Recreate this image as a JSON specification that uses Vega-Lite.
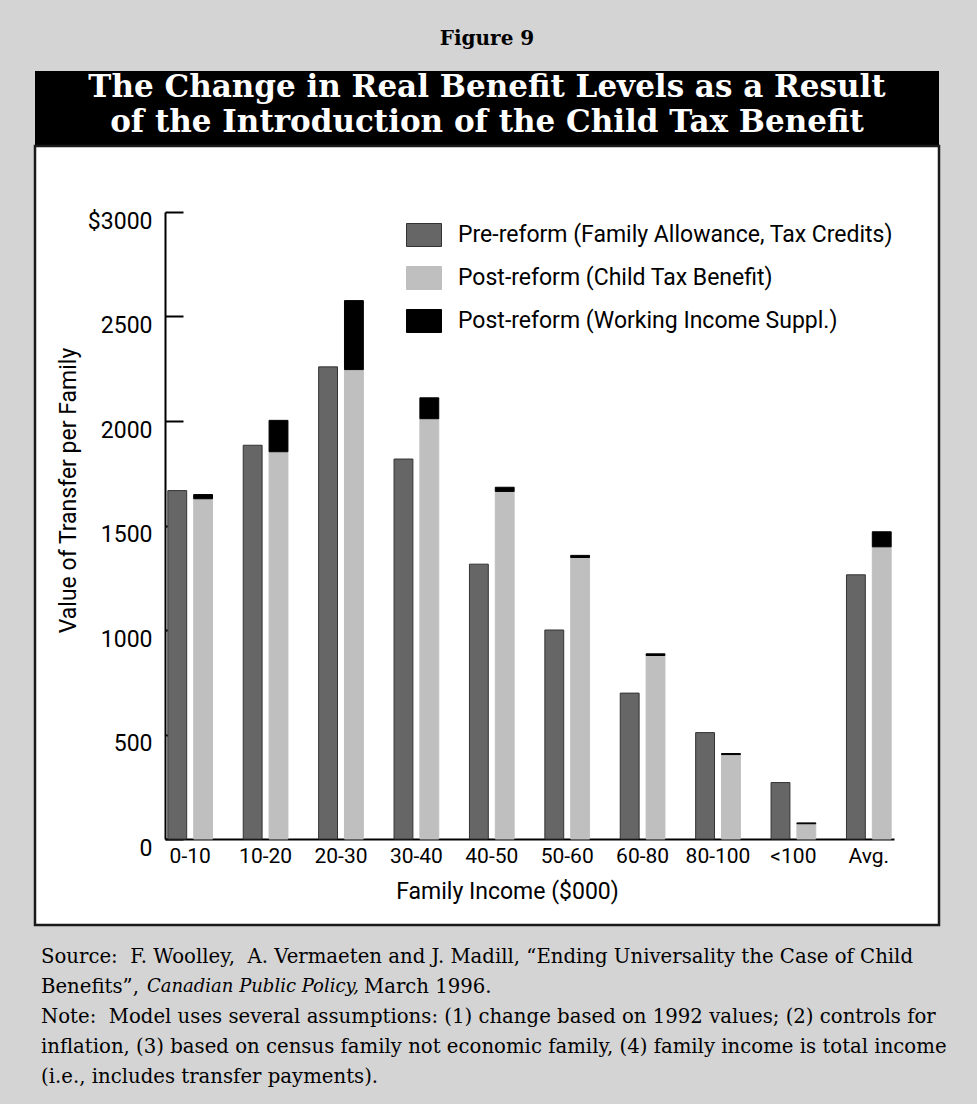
{
  "$schema": "https://vega.github.io/schema/vega-lite/v6.json",
  "background": "#d4d4d4",
  "padding": {"left": 33, "top": 29, "right": 38, "bottom": 0},
  "spacing": 0,
  "bounds": "flush",
  "datasets": {
    "heading": [
      {"line": 1, "text": "The Change in Real Benefit Levels as a Result"},
      {"line": 2, "text": "of the Introduction of the Child Tax Benefit"}
    ],
    "benefits": [
      {"income": "0-10", "group": "Pre", "series": "Pre-reform (Family Allowance, Tax Credits)", "value": 1667},
      {"income": "0-10", "group": "Post", "series": "Post-reform (Child Tax Benefit)", "value": 1628},
      {"income": "0-10", "group": "Post", "series": "Post-reform (Working Income Suppl.)", "value": 20},
      {"income": "10-20", "group": "Pre", "series": "Pre-reform (Family Allowance, Tax Credits)", "value": 1884},
      {"income": "10-20", "group": "Post", "series": "Post-reform (Child Tax Benefit)", "value": 1853},
      {"income": "10-20", "group": "Post", "series": "Post-reform (Working Income Suppl.)", "value": 150},
      {"income": "20-30", "group": "Pre", "series": "Pre-reform (Family Allowance, Tax Credits)", "value": 2259},
      {"income": "20-30", "group": "Post", "series": "Post-reform (Child Tax Benefit)", "value": 2246},
      {"income": "20-30", "group": "Post", "series": "Post-reform (Working Income Suppl.)", "value": 330},
      {"income": "30-40", "group": "Pre", "series": "Pre-reform (Family Allowance, Tax Credits)", "value": 1818},
      {"income": "30-40", "group": "Post", "series": "Post-reform (Child Tax Benefit)", "value": 2011},
      {"income": "30-40", "group": "Post", "series": "Post-reform (Working Income Suppl.)", "value": 100},
      {"income": "40-50", "group": "Pre", "series": "Pre-reform (Family Allowance, Tax Credits)", "value": 1315},
      {"income": "40-50", "group": "Post", "series": "Post-reform (Child Tax Benefit)", "value": 1663},
      {"income": "40-50", "group": "Post", "series": "Post-reform (Working Income Suppl.)", "value": 20},
      {"income": "50-60", "group": "Pre", "series": "Pre-reform (Family Allowance, Tax Credits)", "value": 1000},
      {"income": "50-60", "group": "Post", "series": "Post-reform (Child Tax Benefit)", "value": 1347},
      {"income": "50-60", "group": "Post", "series": "Post-reform (Working Income Suppl.)", "value": 10},
      {"income": "60-80", "group": "Pre", "series": "Pre-reform (Family Allowance, Tax Credits)", "value": 698},
      {"income": "60-80", "group": "Post", "series": "Post-reform (Child Tax Benefit)", "value": 878},
      {"income": "60-80", "group": "Post", "series": "Post-reform (Working Income Suppl.)", "value": 8},
      {"income": "80-100", "group": "Pre", "series": "Pre-reform (Family Allowance, Tax Credits)", "value": 509},
      {"income": "80-100", "group": "Post", "series": "Post-reform (Child Tax Benefit)", "value": 404},
      {"income": "80-100", "group": "Post", "series": "Post-reform (Working Income Suppl.)", "value": 5},
      {"income": "<100", "group": "Pre", "series": "Pre-reform (Family Allowance, Tax Credits)", "value": 270},
      {"income": "<100", "group": "Post", "series": "Post-reform (Child Tax Benefit)", "value": 73},
      {"income": "<100", "group": "Post", "series": "Post-reform (Working Income Suppl.)", "value": 4},
      {"income": "Avg.", "group": "Pre", "series": "Pre-reform (Family Allowance, Tax Credits)", "value": 1264},
      {"income": "Avg.", "group": "Post", "series": "Post-reform (Child Tax Benefit)", "value": 1398},
      {"income": "Avg.", "group": "Post", "series": "Post-reform (Working Income Suppl.)", "value": 72}
    ],
    "notes": [
      {"line": 1, "part": "a", "text": "Source:\u00a0 F. Woolley,\u00a0 A. Vermaeten and J. Madill, “Ending Universality the Case of Child"},
      {"line": 2, "part": "a", "text": "Benefits”,"},
      {"line": 2, "part": "b", "text": "Canadian Public Policy,"},
      {"line": 2, "part": "c", "text": "March 1996."},
      {"line": 3, "part": "a", "text": "Note:\u00a0 Model uses several assumptions: (1) change based on 1992 values; (2) controls for"},
      {"line": 4, "part": "a", "text": "inflation, (3) based on census family not economic family, (4) family income is total income"},
      {"line": 5, "part": "a", "text": "(i.e., includes transfer payments)."}
    ]
  },
  "vconcat": [
    {
      "width": 904,
      "height": 75,
      "view": {"fill": "#000000", "stroke": null},
      "title": {"text": "Figure 9", "font": "DejaVu Serif", "fontSize": 20, "fontWeight": "bold", "color": "#000000", "offset": 22, "anchor": "middle"},
      "data": {"name": "heading"},
      "mark": {"type": "text", "font": "DejaVu Serif", "fontSize": 31, "fontWeight": "bold", "color": "#ffffff", "align": "center", "baseline": "middle", "x": 452},
      "encoding": {
        "y": {"field": "line", "type": "ordinal", "scale": {"type": "point", "range": [17, 52], "padding": 0}, "axis": null},
        "text": {"field": "text"}
      }
    },
    {
      "width": 904,
      "height": 779,
      "view": {"fill": "#ffffff", "stroke": "#1a1a1a", "strokeWidth": 2.5},
      "data": {"name": "benefits"},
      "transform": [
        {"stack": "value", "groupby": ["income", "group"], "sort": [{"field": "series", "order": "ascending"}], "as": ["v0", "v1"]}
      ],
      "mark": {"type": "bar", "strokeWidth": 1},
      "encoding": {
        "x": {
          "field": "income", "type": "nominal",
          "sort": ["0-10", "10-20", "20-30", "30-40", "40-50", "50-60", "60-80", "80-100", "<100", "Avg."],
          "scale": {"range": [130, 859], "paddingInner": 0.407, "paddingOuter": 0.0375},
          "axis": {
            "title": "Family Income ($000)", "orient": "bottom", "offset": -86,
            "ticks": false, "labelAngle": 0, "labelPadding": 6,
            "labelFont": "Roboto", "labelFontSize": 21, "labelColor": "#000000",
            "domainColor": "#000000", "domainWidth": 2,
            "titleFont": "Roboto", "titleFontSize": 23, "titleFontWeight": "normal", "titleColor": "#000000",
            "titleX": 472, "titleY": 52, "titleBaseline": "middle", "titleAlign": "center"
          }
        },
        "xOffset": {"field": "group", "type": "nominal", "sort": ["Pre", "Post"], "scale": {"paddingInner": 0.27, "paddingOuter": 0}},
        "y": {
          "field": "v1", "type": "quantitative",
          "scale": {"domain": [0, 3000], "range": [693, 66], "nice": false},
          "axis": {
            "title": "Value of Transfer per Family", "offset": -130,
            "values": [0, 500, 1000, 1500, 2000, 2500, 3000], "format": "d",
            "labelExpr": "datum.value == 3000 ? '$3000' : datum.label",
            "grid": false, "tickSize": -18, "tickWidth": 2, "tickColor": "#000000",
            "domainColor": "#000000", "domainWidth": 2,
            "labelFont": "Roboto", "labelFontSize": 23, "labelColor": "#000000", "labelPadding": 31, "labelOffset": 9,
            "titleFont": "Roboto", "titleFontSize": 23, "titleFontWeight": "normal", "titleColor": "#000000",
            "titleX": -97, "titleY": 344, "titleBaseline": "middle", "titleAlign": "center", "titleAngle": 270
          }
        },
        "y2": {"field": "v0"},
        "fill": {
          "field": "series", "type": "nominal",
          "scale": {
            "domain": ["Pre-reform (Family Allowance, Tax Credits)", "Post-reform (Child Tax Benefit)", "Post-reform (Working Income Suppl.)"],
            "range": ["#666666", "#bfbfbf", "#000000"]
          },
          "legend": {
            "orient": "none", "legendX": 371, "legendY": 146, "title": null, "padding": 0,
            "symbolType": "M-1,-0.657H1V0.657H-1Z", "symbolSize": 1225, "symbolStrokeWidth": 1,
            "labelFont": "Roboto", "labelFontSize": 23, "labelColor": "#000000", "labelOffset": 16, "labelLimit": 600,
            "rowPadding": 11
          }
        },
        "stroke": {
          "field": "series", "type": "nominal",
          "scale": {
            "domain": ["Pre-reform (Family Allowance, Tax Credits)", "Post-reform (Child Tax Benefit)", "Post-reform (Working Income Suppl.)"],
            "range": ["#333333", "#bfbfbf", "#000000"]
          },
          "legend": {
            "orient": "none", "legendX": 371, "legendY": 146, "title": null, "padding": 0,
            "symbolType": "M-1,-0.657H1V0.657H-1Z", "symbolSize": 1225, "symbolStrokeWidth": 1,
            "labelFont": "Roboto", "labelFontSize": 23, "labelColor": "#000000", "labelOffset": 16, "labelLimit": 600,
            "rowPadding": 11
          }
        }
      }
    },
    {
      "width": 904,
      "height": 179,
      "view": {"stroke": null},
      "data": {"name": "notes"},
      "encoding": {
        "y": {"field": "line", "type": "ordinal", "scale": {"type": "point", "range": [32, 152], "padding": 0}, "axis": null},
        "text": {"field": "text"}
      },
      "layer": [
        {
          "transform": [{"filter": "datum.part == 'a'"}],
          "mark": {"type": "text", "align": "left", "baseline": "middle", "font": "DejaVu Serif", "fontSize": 19.7, "color": "#000000", "x": 6}
        },
        {
          "transform": [{"filter": "datum.part == 'b'"}],
          "mark": {"type": "text", "align": "left", "baseline": "middle", "font": "DejaVu Serif", "fontSize": 18, "fontStyle": "italic", "color": "#000000", "x": 6, "dx": 106}
        },
        {
          "transform": [{"filter": "datum.part == 'c'"}],
          "mark": {"type": "text", "align": "left", "baseline": "middle", "font": "DejaVu Serif", "fontSize": 19.7, "color": "#000000", "x": 6, "dx": 323}
        }
      ]
    }
  ],
  "config": {
    "view": {"stroke": null}
  }
}
